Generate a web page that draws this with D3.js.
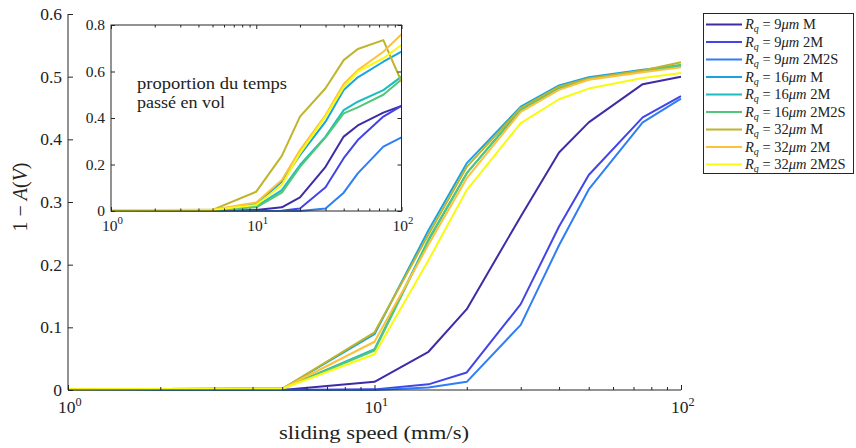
<!DOCTYPE html>
<html><head><meta charset="utf-8">
<script src="https://cdn.jsdelivr.net/npm/d3@7/dist/d3.min.js"></script>
<style>body{margin:0;background:#fff}svg{display:block}text{font-family:"Liberation Serif","DejaVu Serif",serif;fill:#222}</style>
</head><body><svg id="c" width="856" height="448"></svg>
<script>
const speeds = [1, 5, 10, 15, 20, 30, 40, 50, 75, 100];
const seriesNames = ["9|M","9|2M","9|2M2S","16|M","16|2M","16|2M2S","32|M","32|2M","32|2M2S"];
const colors = ["#3d2ca6","#4343e8","#2f7ef5","#1aa3df","#1dbcbe","#52c77a","#beb52c","#fdc13a","#f8fa0f"];
// main axes: 1 - A(V)
const main9M     = [0, 0, 0.013, 0.061, 0.129, 0.277, 0.379, 0.427, 0.488, 0.500];
const main92M    = [0, 0, 0.001, 0.009, 0.028, 0.137, 0.261, 0.343, 0.435, 0.469];
const main92M2S  = [0, 0, 0, 0.004, 0.013, 0.104, 0.231, 0.320, 0.427, 0.465];
const main16M    = [0.001, 0.002, 0.089, 0.255, 0.362, 0.452, 0.486, 0.499, 0.511, 0.518];
const main162M   = [0.001, 0.002, 0.065, 0.240, 0.346, 0.448, 0.482, 0.496, 0.509, 0.516];
const main162M2S = [0.001, 0.002, 0.063, 0.238, 0.346, 0.447, 0.482, 0.496, 0.509, 0.519];
const main32M    = [0.001, 0.002, 0.092, 0.248, 0.356, 0.450, 0.484, 0.497, 0.510, 0.523];
const main322M   = [0.001, 0.002, 0.077, 0.232, 0.338, 0.444, 0.479, 0.495, 0.507, 0.515];
const main322M2S = [0.001, 0.002, 0.057, 0.207, 0.319, 0.426, 0.464, 0.481, 0.498, 0.506];
// inset: proportion du temps passé en vol
const ins9M     = [0, 0, 0.004, 0.016, 0.059, 0.190, 0.320, 0.368, 0.423, 0.452];
const ins92M    = [0, 0, 0, 0.001, 0.011, 0.102, 0.227, 0.305, 0.406, 0.452];
const ins92M2S  = [0, 0, 0, 0, 0, 0.011, 0.079, 0.162, 0.277, 0.317];
const ins16M    = [0.003, 0.004, 0.030, 0.126, 0.240, 0.384, 0.520, 0.575, 0.642, 0.685];
const ins162M   = [0.003, 0.004, 0.019, 0.090, 0.198, 0.320, 0.434, 0.470, 0.520, 0.578];
const ins162M2S = [0.003, 0.004, 0.016, 0.079, 0.190, 0.317, 0.420, 0.446, 0.500, 0.566];
const ins32M    = [0.003, 0.005, 0.083, 0.237, 0.406, 0.528, 0.649, 0.697, 0.735, 0.556];
const ins322M   = [0.003, 0.005, 0.037, 0.133, 0.262, 0.413, 0.546, 0.606, 0.685, 0.760];
const ins322M2S = [0.003, 0.004, 0.026, 0.112, 0.248, 0.406, 0.532, 0.600, 0.657, 0.714];
const mainYTicks = [0, 0.1, 0.2, 0.3, 0.4, 0.5, 0.6];
const insetYTicks = [0, 0.2, 0.4, 0.6, 0.8];
const decadeTicks = [1, 10, 100];

const mainData = [main9M, main92M, main92M2S, main16M, main162M, main162M2S, main32M, main322M, main322M2S];
const insData = [ins9M, ins92M, ins92M2S, ins16M, ins162M, ins162M2S, ins32M, ins322M, ins322M2S];

const svg = d3.select("#c");
const axCol = "#262626";
const minorTicks = [];
[1, 10].forEach(d => { for (let k = 2; k <= 9; k++) minorTicks.push(d * k); });

function drawAxes(g, x, y, yTicks, opt) {
  const [x0, x1] = x.range(), [y0, y1] = y.range();
  const ya = g.append("g").attr("transform", `translate(${x0},0)`)
    .call(d3.axisLeft(y).tickValues(yTicks).tickSize(-opt.tick).tickPadding(opt.ypad)
      .tickFormat(d => d === 0 ? "0" : d3.format(".1f")(d)));
  ya.select(".domain").remove();
  ya.selectAll("line").attr("stroke", axCol);
  ya.selectAll("text").attr("font-size", opt.fs).attr("font-family", "Liberation Serif").attr("fill", "#222");
  const xa = g.append("g").attr("transform", `translate(0,${y0})`)
    .call(d3.axisBottom(x).tickValues(decadeTicks).tickSize(-opt.tick).tickFormat(""));
  xa.select(".domain").remove();
  xa.selectAll("line").attr("stroke", axCol);
  const xm = g.append("g").attr("transform", `translate(0,${y0})`)
    .call(d3.axisBottom(x).tickValues(minorTicks).tickSize(-opt.minor).tickFormat(""));
  xm.select(".domain").remove();
  xm.selectAll("line").attr("stroke", axCol);
  if (opt.box) {
    const ya2 = g.append("g").attr("transform", `translate(${x1},0)`)
      .call(d3.axisRight(y).tickValues(yTicks).tickSize(-opt.tick).tickFormat(""));
    ya2.select(".domain").remove(); ya2.selectAll("line").attr("stroke", axCol);
    const xt = g.append("g").attr("transform", `translate(0,${y1})`)
      .call(d3.axisTop(x).tickValues(decadeTicks).tickSize(-opt.tick).tickFormat(""));
    xt.select(".domain").remove(); xt.selectAll("line").attr("stroke", axCol);
    const xt2 = g.append("g").attr("transform", `translate(0,${y1})`)
      .call(d3.axisTop(x).tickValues(minorTicks).tickSize(-opt.minor).tickFormat(""));
    xt2.select(".domain").remove(); xt2.selectAll("line").attr("stroke", axCol);
    g.append("rect").attr("x", x0).attr("y", y1).attr("width", x1 - x0).attr("height", y0 - y1)
      .attr("fill", "none").attr("stroke", axCol).attr("stroke-width", 1);
  } else {
    g.append("path").attr("d", `M${x0},${y1}V${y0}H${x1}`).attr("fill", "none").attr("stroke", axCol).attr("stroke-width", 1);
  }
  decadeTicks.forEach((d, i) => {
    const t = g.append("text").attr("x", x(d) + opt.fs * 0.1).attr("y", y0 + opt.xlab).attr("text-anchor", "middle")
      .attr("font-size", opt.fs);
    t.append("tspan").text("10");
    t.append("tspan").attr("dy", -opt.fs * 0.42).attr("font-size", opt.fs * 0.7).text(String(i));
  });
}

function drawLines(g, x, y, data) {
  const line = d3.line().x((d, i) => x(speeds[i])).y(d => y(d));
  data.forEach((s, k) => {
    g.append("path").datum(s).attr("d", line).attr("fill", "none")
      .attr("stroke", colors[k]).attr("stroke-width", 2).attr("stroke-linejoin", "round");
  });
}

// main
const xm = d3.scaleLog().domain([1, 100]).range([68, 681]);
const ym = d3.scaleLinear().domain([0, 0.6]).range([390, 14]);
const gm = svg.append("g");
drawLines(gm, xm, ym, mainData);
drawAxes(gm, xm, ym, mainYTicks, {tick: 5, minor: 3, ypad: 6, fs: 17.5, xlab: 23, box: false});

svg.append("text").attr("x", 374).attr("y", 439).attr("text-anchor", "middle").attr("font-size", 19)
  .attr("textLength", 190).attr("lengthAdjust", "spacingAndGlyphs")
  .text("sliding speed (mm/s)");
const yl = svg.append("text").attr("transform", "translate(27,197) rotate(-90)").attr("text-anchor", "middle").attr("font-size", 20);
yl.append("tspan").text("1 − ");
yl.append("tspan").attr("font-style", "italic").text("A");
yl.append("tspan").text("(");
yl.append("tspan").attr("font-style", "italic").text("V");
yl.append("tspan").text(")");

// inset
const xi = d3.scaleLog().domain([1, 100]).range([111, 401.5]);
const yi = d3.scaleLinear().domain([0, 0.8]).range([211, 25]);
const gi = svg.append("g");
gi.append("rect").attr("x", 111).attr("y", 25).attr("width", 290.5).attr("height", 186).attr("fill", "#fff");
drawLines(gi, xi, yi, insData);
drawAxes(gi, xi, yi, insetYTicks, {tick: 4, minor: 2.5, ypad: 6, fs: 15.5, xlab: 20, box: true});
gi.append("text").attr("x", 137).attr("y", 89).attr("font-size", 16)
  .attr("textLength", 150).attr("lengthAdjust", "spacingAndGlyphs").text("proportion du temps");
gi.append("text").attr("x", 137).attr("y", 108).attr("font-size", 16)
  .attr("textLength", 88).attr("lengthAdjust", "spacingAndGlyphs").text("passé en vol");

// legend
const lg = svg.append("g");
lg.append("rect").attr("x", 703.5).attr("y", 13.5).attr("width", 150).attr("height", 160)
  .attr("fill", "#fff").attr("stroke", axCol).attr("stroke-width", 1);
seriesNames.forEach((n, k) => {
  const [r, v] = n.split("|");
  const yy = 24.5 + k * 17.5;
  lg.append("line").attr("x1", 706).attr("x2", 742).attr("y1", yy).attr("y2", yy)
    .attr("stroke", colors[k]).attr("stroke-width", 2);
  const t = lg.append("text").attr("x", 745).attr("y", yy + 4.5).attr("font-size", 14.5);
  t.append("tspan").attr("font-style", "italic").text("R");
  t.append("tspan").attr("font-style", "italic").attr("font-size", 10).attr("dy", 3).text("q");
  t.append("tspan").attr("dy", -3).text(" = " + r);
  t.append("tspan").attr("font-style", "italic").text("μm");
  t.append("tspan").text(" " + v);
});
</script></body></html>
